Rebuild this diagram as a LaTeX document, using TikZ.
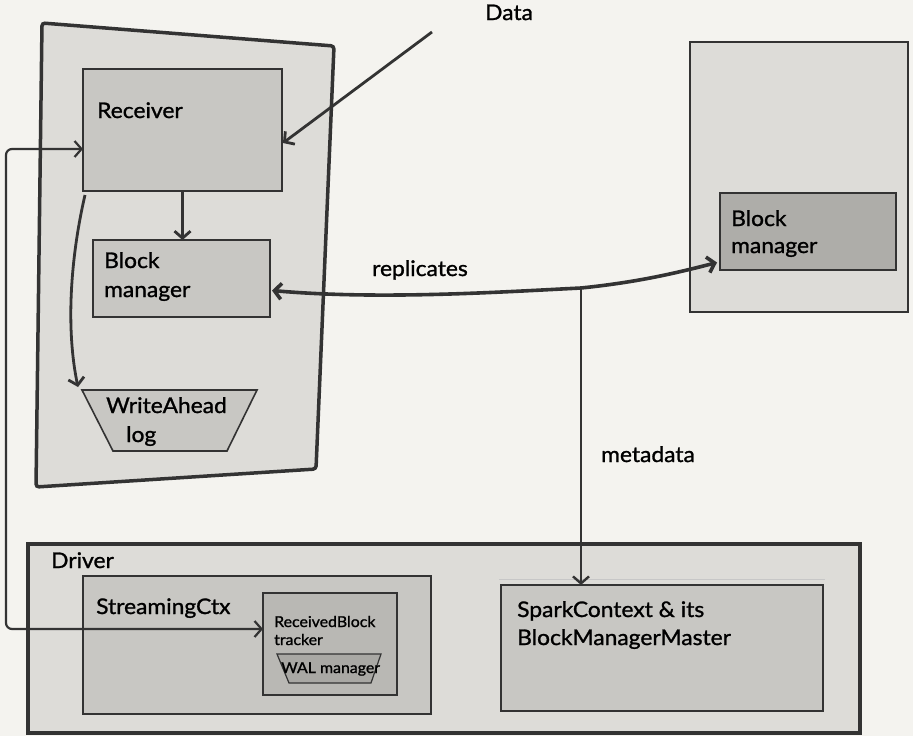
\documentclass[tikz,border=0pt]{standalone}
\usepackage{fontspec}
\setmainfont{Lato}[FakeBold=1.2, FakeStretch=1.06]
\usetikzlibrary{arrows.meta}
\definecolor{bg}{HTML}{F4F3EF}
\definecolor{cont}{HTML}{DDDCD8}
\definecolor{inner}{HTML}{C8C7C3}
\definecolor{darkbox}{HTML}{AEADA9}
\definecolor{trk}{HTML}{B9B8B4}
\definecolor{walc}{HTML}{A9A8A4}
\definecolor{ink}{HTML}{333333}
\begin{document}
\begin{tikzpicture}[x=1pt,y=-1pt,
  box/.style={draw=ink, line width=1.6pt, fill=inner, inner sep=0pt, outer sep=0pt},
  container/.style={draw=ink, line width=3pt, fill=cont, inner sep=0pt, outer sep=0pt},
  ghost/.style={inner sep=0pt, outer sep=0pt},
  lbl/.style={anchor=base west, inner sep=0pt, text=black, font=\fontsize{21.5}{24}\selectfont},
  small/.style={anchor=base west, inner sep=0pt, text=black, font=\fontsize{15}{17}\selectfont},
  arr/.style={draw=ink, line width=2.8pt, -{Straight Barb[length=7pt,width=16pt]}},
  biarr/.style={draw=ink, line width=2.8pt, {Straight Barb[length=7pt,width=16pt]}-{Straight Barb[length=7pt,width=16pt]}}
]
\fill[bg] (0,0) rectangle (913,736);
\useasboundingbox (0,0) rectangle (913,736);

% left worker container
\draw[ink, line width=3.5pt, fill=cont, rounded corners=3pt] (42,23) -- (334,46) -- (316,469) -- (36,487) -- cycle;

% right worker container
\node[container, line width=2.2pt, minimum width=218pt, minimum height=270pt] (rworker) at (799,177) {};
\node[box, fill=darkbox, minimum width=176pt, minimum height=77pt] (rbm) at (808,231.5) {};

% left inner boxes
\node[box, minimum width=199pt, minimum height=122pt] (recv) at (182.5,130) {};
\node[box, minimum width=177pt, minimum height=77pt] (bm) at (181.5,278.5) {};
\node[ghost, minimum width=175pt, minimum height=61pt] (wal) at (169.5,420.5) {};
\draw[ink, line width=1.6pt, fill=inner] (wal.north west) -- (wal.north east) -- ([xshift=-30pt]wal.south east) -- ([xshift=31pt]wal.south west) -- cycle;

% driver
\node[container, line width=4pt, minimum width=832pt, minimum height=189pt] (driver) at (444,638.5) {};
\node[box, line width=2.2pt, minimum width=348pt, minimum height=138pt] (sctx) at (257,645) {};
\node[box, fill=trk, minimum width=134pt, minimum height=102pt] (tracker) at (330,644) {};
\node[ghost, minimum width=104pt, minimum height=29pt] (walm) at (329,668.5) {};
\draw[ink, line width=1.2pt, fill=walc] (walm.north west) -- (walm.north east) -- ([xshift=-10pt]walm.south east) -- ([xshift=12pt]walm.south west) -- cycle;
\draw[black!22, line width=0.8pt] (499,579) -- (825,579);
\node[box, minimum width=322pt, minimum height=126pt] (spark) at (662,648) {};

% texts
\node[lbl] (tdata) at (485,20) {Data};
\node[lbl] (trecv) at (97,118) {Receiver};
\node[lbl] (tbm1) at (104,268) {Block};
\node[lbl] (tbm2) at (104,297) {manager};
\node[lbl] (twal1) at (106,413) {WriteAhead};
\node[lbl] (twal2) at (126,442) {log};
\node[lbl] (trb1) at (731,226) {Block};
\node[lbl] (trb2) at (731,253) {manager};
\node[lbl] (trepl) at (372,276) {replicates};
\node[lbl] (tmeta) at (601,462) {metadata};
\node[lbl] (tdriver) at (51,568) {Driver};
\node[lbl] (tsctx) at (96,614) {StreamingCtx};
\node[small] (ttr1) at (274,627) {ReceivedBlock};
\node[small] (ttr2) at (274,645) {tracker};
\node[small] (twm) at (281,673) {WAL manager};
\node[lbl] (tsp1) at (517,617) {SparkContext \& its};
\node[lbl] (tsp2) at (517,645) {BlockManagerMaster};

% connectors
\coordinate (dsrc) at (432,32);
\draw[arr] (dsrc) -- ([yshift=-13pt,xshift=1pt]recv.east);
\draw[arr] (recv.south) -- (recv.south |- bm.north);
\draw[arr] ([xshift=2pt,yshift=-4pt]recv.south west) .. controls (70,260) and (66,330) .. ([xshift=-4pt,yshift=3pt]wal.north west);
\draw[biarr, line width=2.2pt, rounded corners=6pt] ([yshift=-19pt]recv.west) -| (6,629) -- ([yshift=15pt]tracker.west);
\coordinate (mid) at (581,288);
\draw[biarr, line width=3.6pt] ([yshift=-12pt,xshift=2pt]bm.east) .. controls (380,300) and (500,292) .. (mid) .. controls (640,282) and (680,272) .. ([yshift=-31pt,xshift=-3pt]rbm.west);
\draw[arr, line width=2.4pt] (mid) -- (mid |- spark.north);
\end{tikzpicture}
\end{document}
